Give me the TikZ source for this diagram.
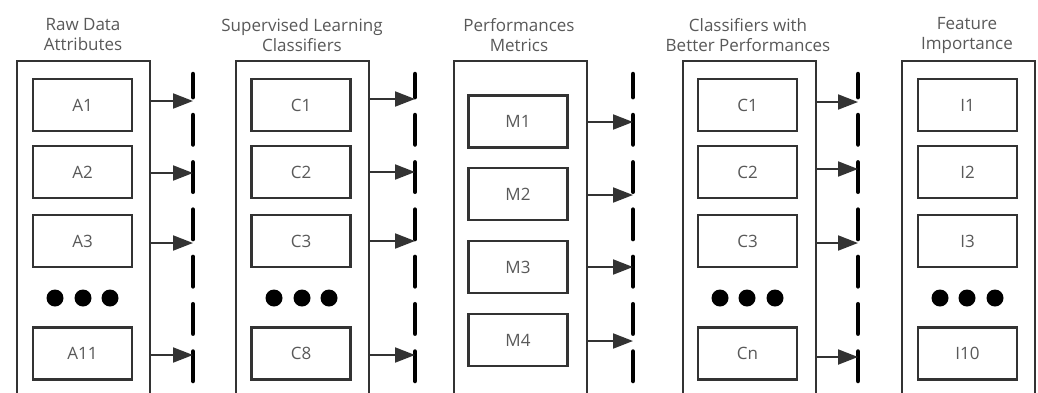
\documentclass[tikz,border=0pt]{standalone}
\usepackage{fontspec}
\setmainfont{Open Sans}
\usetikzlibrary{arrows.meta}
\definecolor{txt}{HTML}{595959}
\definecolor{edge}{HTML}{333333}
\tikzset{
  outerbox/.style={draw=edge, line width=2pt, minimum width=133pt, minimum height=360pt, anchor=north west, inner sep=0pt},
  innerbox/.style={draw=edge, line width=2.5pt, minimum width=99pt, minimum height=52pt, inner sep=0pt, text=txt, font=\fontsize{17}{20}\selectfont},
  title/.style={text=txt, align=center, font=\fontsize{17}{20}\selectfont, inner sep=0pt},
  dotnode/.style={circle, fill=black, minimum size=17pt, inner sep=0pt},
  dashline/.style={line width=4.5pt, line cap=round, dash pattern=on 29.5pt off 17.8pt, dash phase=6.3pt},
  arr/.style={draw=edge, line width=2pt, -{Triangle[length=20pt 0 0,width=15pt 0]}}
}
\begin{document}
\begin{tikzpicture}[x=1pt, y=-1pt]
\useasboundingbox (0,0) rectangle (1038,392);
\clip (0,0) rectangle (1038,392);
\fill[white] (0,0) rectangle (1038,392);

% titles
\node[title] (t1) at (83,35) {Raw Data\\Attributes};
\node[title] (t2) at (302,35) {Supervised Learning\\Classifiers};
\node[title] (t3) at (519,35) {Performances\\Metrics};
\node[title] (t4) at (748,35) {Classifiers with\\Better Performances};
\node[title] (t5) at (967,35) {Feature\\Importance};

% outer boxes
\node[outerbox] (o1) at (16,60) {};
\node[outerbox] (o2) at (235,60) {};
\node[outerbox] (o3) at (453,60) {};
\node[outerbox] (o4) at (682,60) {};
\node[outerbox] (o5) at (901,60) {};

% column 1
\node[innerbox] (a1) at (82.5,105) {A1};
\node[innerbox] (a2) at (82.5,172) {A2};
\node[innerbox] (a3) at (82.5,241) {A3};
\node[dotnode] (ad1) at (55,298) {};
\node[dotnode] (ad2) at (83,298) {};
\node[dotnode] (ad3) at (110,298) {};
\node[innerbox] (a11) at (82.5,353.5) {A11};

% column 2
\node[innerbox] (c1) at (301,105) {C1};
\node[innerbox] (c2) at (301,172) {C2};
\node[innerbox] (c3) at (301,241) {C3};
\node[dotnode] (cd1) at (274,298) {};
\node[dotnode] (cd2) at (302,298) {};
\node[dotnode] (cd3) at (329,298) {};
\node[innerbox] (c8) at (301,353.5) {C8};

% column 3
\node[innerbox] (m1) at (518,121.5) {M1};
\node[innerbox] (m2) at (518,194) {M2};
\node[innerbox] (m3) at (518,267) {M3};
\node[innerbox] (m4) at (518,340) {M4};

% column 4
\node[innerbox] (b1) at (747.5,105) {C1};
\node[innerbox] (b2) at (747.5,172) {C2};
\node[innerbox] (b3) at (747.5,241) {C3};
\node[dotnode] (bd1) at (720,298) {};
\node[dotnode] (bd2) at (747,298) {};
\node[dotnode] (bd3) at (775,298) {};
\node[innerbox] (bn) at (747.5,353.5) {Cn};

% column 5
\node[innerbox] (i1) at (967.5,105) {I1};
\node[innerbox] (i2) at (967.5,172) {I2};
\node[innerbox] (i3) at (967.5,241) {I3};
\node[dotnode] (id1) at (940,298) {};
\node[dotnode] (id2) at (967,298) {};
\node[dotnode] (id3) at (995,298) {};
\node[innerbox] (i10) at (967.5,353.5) {I10};

% dashed lines
\coordinate (d1) at (193,74);
\coordinate (d2) at (415,74);
\coordinate (d3) at (633,74);
\coordinate (d4) at (858,74);
\foreach \d in {d1,d2,d3,d4} {\draw[dashline] (\d) -- ++(0,340);}

% arrow tips
\coordinate (p11) at (193,101); \coordinate (p12) at (193,173);
\coordinate (p13) at (193,243); \coordinate (p14) at (193,355);
\coordinate (p21) at (415,99);  \coordinate (p22) at (415,172);
\coordinate (p23) at (415,241); \coordinate (p24) at (415,355);
\coordinate (p31) at (633,122); \coordinate (p32) at (633,195);
\coordinate (p33) at (633,267); \coordinate (p34) at (633,341);
\coordinate (p41) at (858,102); \coordinate (p42) at (858,169);
\coordinate (p43) at (858,243); \coordinate (p44) at (858,357);

\foreach \c/\o in {1/o1,2/o2,3/o3,4/o4} {
  \foreach \k in {1,2,3,4} {
    \draw[arr] (\o.east |- p\c\k) -- (p\c\k);
  }
}
\end{tikzpicture}
\end{document}
